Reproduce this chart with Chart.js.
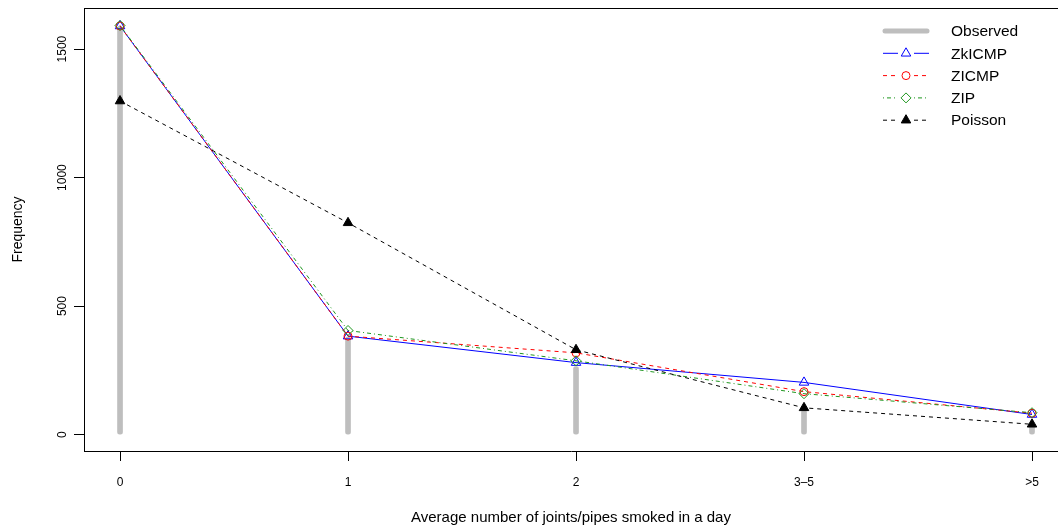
<!DOCTYPE html>
<html>
<head>
<meta charset="utf-8">
<script src="https://cdn.jsdelivr.net/npm/chart.js@4/dist/chart.umd.min.js"></script>
<style>
  html, body { margin: 0; padding: 0; background: #fff; overflow: hidden; }
  #wrap { width: 1058px; height: 529px; }
</style>
</head>
<body>
<div id="wrap"><canvas id="myChart" width="1058" height="529"></canvas></div>
<script>
// values
const categories = ['0', '1', '2', '3\u20135', '>5'];
const observed = [1590, 380, 265, 95, 40];
const zkicmp = [1590, 383, 280, 203, 78];
const zicmp = [1590, 383, 318, 167, 83];
const zip = [1592, 405, 287, 159, 85];
const poisson = [1298, 824, 330, 104, 40];
const yTicks = [0, 500, 1000, 1500];

const FONT = '"Liberation Sans", Arial, Helvetica, sans-serif';

function pts(values) {
  return values.map((v, i) => ({x: i, y: v}));
}

// R style legend, top right, no box
const rLegend = {
  id: 'rLegend',
  afterDraw(chart) {
    const ctx = chart.ctx;
    const x0 = 883, x1 = 929, xm = 906, xt = 951;
    let y = 31;
    ctx.save();
    ctx.font = '15.5px ' + FONT;
    ctx.textBaseline = 'middle';
    ctx.textAlign = 'left';
    chart.data.datasets.forEach(ds => {
      ctx.save();
      if (ds.type === 'bar') {
        ctx.strokeStyle = ds.backgroundColor;
        ctx.lineWidth = 5;
        ctx.lineCap = 'round';
        ctx.beginPath();
        ctx.moveTo(x0 + 2, y);
        ctx.lineTo(x1 - 2, y);
        ctx.stroke();
      } else {
        ctx.strokeStyle = ds.borderColor;
        ctx.lineWidth = ds.borderWidth;
        ctx.setLineDash(ds.borderDash || []);
        ctx.beginPath();
        ctx.moveTo(x0, y);
        ctx.lineTo(xm - 8, y);
        ctx.moveTo(xm + 8, y);
        ctx.lineTo(x1, y);
        ctx.stroke();
        ctx.setLineDash([]);
        ctx.fillStyle = ds.pointBackgroundColor;
        ctx.strokeStyle = ds.borderColor;
        ctx.lineWidth = 1;
        Chart.helpers.drawPoint(ctx, {pointStyle: ds.pointStyle, radius: ds.pointRadius, borderWidth: 1, rotation: 0}, xm, y);
      }
      ctx.restore();
      ctx.fillStyle = '#000';
      ctx.fillText(ds.label, xt, y + 1);
      y += 22.3;
    });
    ctx.restore();
  }
};

// top line of the plot box (right side is off the picture)
const boxTop = {
  id: 'boxTop',
  afterDraw(chart) {
    const a = chart.chartArea;
    const ctx = chart.ctx;
    ctx.save();
    ctx.strokeStyle = '#000';
    ctx.lineWidth = 1;
    ctx.beginPath();
    ctx.moveTo(a.left, a.top + 0.5);
    ctx.lineTo(a.right, a.top + 0.5);
    ctx.stroke();
    ctx.restore();
  }
};

const ctx1 = document.getElementById('myChart').getContext('2d');

const graph = new Chart(ctx1, {
  data: {
    datasets: [{
      type: 'bar',
      label: 'Observed',
      data: pts(observed),
      backgroundColor: '#BEBEBE',
      barThickness: 5,
      borderRadius: 2.5,
      borderSkipped: false,
      order: 5
    }, {
      type: 'line',
      label: 'ZkICMP',
      data: pts(zkicmp),
      borderColor: '#0000FF',
      borderWidth: 1,
      pointStyle: 'triangle',
      pointRadius: 5.5,
      pointBorderWidth: 1,
      pointBackgroundColor: 'rgba(0,0,0,0)',
      order: 4
    }, {
      type: 'line',
      label: 'ZICMP',
      data: pts(zicmp),
      borderColor: '#FF0000',
      borderWidth: 1,
      borderDash: [4, 4],
      pointStyle: 'circle',
      pointRadius: 4,
      pointBorderWidth: 1,
      pointBackgroundColor: 'rgba(0,0,0,0)',
      order: 3
    }, {
      type: 'line',
      label: 'ZIP',
      data: pts(zip),
      borderColor: '#1E961E',
      borderWidth: 1,
      borderDash: [1, 3, 4, 3],
      pointStyle: 'rectRot',
      pointRadius: 5,
      pointBorderWidth: 1,
      pointBackgroundColor: 'rgba(0,0,0,0)',
      order: 2
    }, {
      type: 'line',
      label: 'Poisson',
      data: pts(poisson),
      borderColor: '#000000',
      borderWidth: 1,
      borderDash: [4, 4],
      pointStyle: 'triangle',
      pointRadius: 5.5,
      pointBorderWidth: 1,
      pointBackgroundColor: '#000000',
      order: 1
    }]
  },
  options: {
    responsive: false,
    animation: false,
    events: [],
    layout: { autoPadding: false, padding: { top: 8, right: 0, left: 0, bottom: 0 } },
    plugins: {
      legend: { display: false },
      tooltip: { enabled: false }
    },
    scales: {
      x: {
        type: 'linear',
        position: 'bottom',
        offset: false,
        min: -0.158,
        max: 4.114,
        afterFit: s => { s.height = 78; s.paddingRight = 0; },
        afterBuildTicks: s => { s.ticks = categories.map((c, i) => ({value: i})); },
        ticks: {
          callback: v => categories[v],
          color: '#000',
          font: { family: FONT, size: 12 },
          padding: 14,
          maxRotation: 0,
          minRotation: 0
        },
        grid: { offset: false, drawOnChartArea: false, drawTicks: true, tickLength: 10, color: '#000' },
        border: { display: true, color: '#000', width: 1 },
        title: {
          display: true,
          text: 'Average number of joints/pipes smoked in a day',
          color: '#000',
          font: { family: FONT, size: 15 },
          padding: { top: 0, bottom: 2 }
        }
      },
      y: {
        type: 'linear',
        min: -64,
        max: 1660,
        afterFit: s => { s.width = 84; },
        afterBuildTicks: s => { s.ticks = yTicks.map(v => ({value: v})); },
        ticks: {
          callback: v => String(v),
          color: '#000',
          font: { family: FONT, size: 12 },
          padding: -2,
          minRotation: 90,
          maxRotation: 90,
          crossAlign: 'center'
        },
        grid: { drawOnChartArea: false, drawTicks: true, tickLength: 10, color: '#000' },
        border: { display: true, color: '#000', width: 1 },
        title: {
          display: true,
          text: 'Frequency',
          color: '#000',
          font: { family: FONT, size: 14 },
          padding: { top: 10, bottom: 0 }
        }
      }
    }
  },
  plugins: [boxTop, rLegend]
});
</script>
</body>
</html>
